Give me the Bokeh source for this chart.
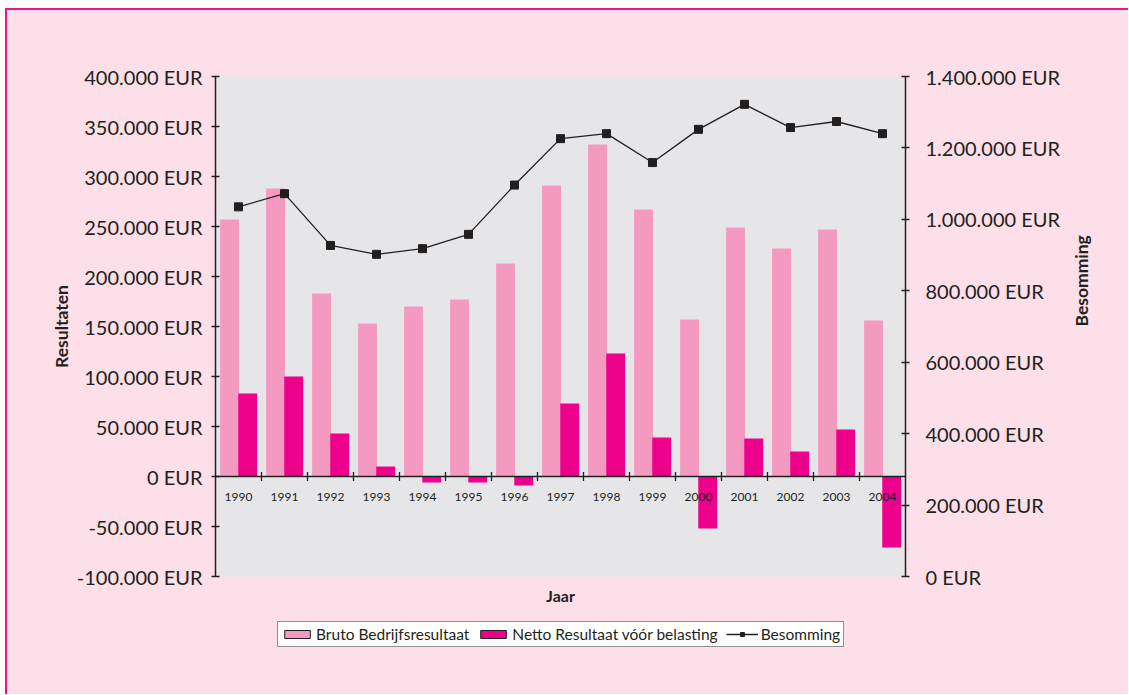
from bokeh.plotting import figure
from bokeh.layouts import column
from bokeh.models import (Range1d, LinearAxis, FixedTicker, Title, Legend,
                          LegendItem, ColumnDataSource, Span)
from bokeh.transform import dodge
from bokeh.core.properties import value
from bokeh.embed import file_html
from bokeh.resources import INLINE
import math

# ---------------- data ----------------
years = ["1990", "1991", "1992", "1993", "1994", "1995", "1996", "1997",
         "1998", "1999", "2000", "2001", "2002", "2003", "2004"]
bruto = [257000, 288000, 183000, 153000, 170000, 177000, 213000, 291000,
         332000, 267000, 157000, 249000, 228000, 247000, 156000]
netto = [83000, 100000, 43000, 10000, -6000, -6000, -9000, 73000,
         123000, 39000, -52000, 38000, 25000, 47000, -71000]
besomming = [1035000, 1072000, 927000, 902000, 918000, 958000, 1096000, 1226000,
             1240000, 1159000, 1252000, 1322000, 1257000, 1274000, 1240000]

left_ticks = [-100000, -50000, 0, 50000, 100000, 150000, 200000, 250000,
              300000, 350000, 400000]
left_tick_labels = ["-100.000 EUR", "-50.000 EUR", "0 EUR", "50.000 EUR",
                    "100.000 EUR", "150.000 EUR", "200.000 EUR", "250.000 EUR",
                    "300.000 EUR", "350.000 EUR", "400.000 EUR"]
right_ticks = [0, 200000, 400000, 600000, 800000, 1000000, 1200000, 1400000]
right_tick_labels = ["0 EUR", "200.000 EUR", "400.000 EUR", "600.000 EUR",
                     "800.000 EUR", "1.000.000 EUR", "1.200.000 EUR",
                     "1.400.000 EUR"]

# ---------------- style ----------------
BG = "#fcdfe9"
PLOT_BG = "#e6e6e8"
BRUTO_C = "#f49ac1"
NETTO_C = "#ec008c"
INK = "#231f20"
FONT = "Lato"

idx = list(range(len(years)))
src = ColumnDataSource(dict(x=idx, year=years, bruto=bruto, netto=netto,
                            bes=besomming))
sep_src = ColumnDataSource(dict(x=[i + 0.5 for i in idx[:-1]],
                                y=[0] * (len(idx) - 1)))

p = figure(frame_width=690, frame_height=500, output_backend="svg",
           toolbar_location=None,
           x_range=Range1d(-0.5, len(years) - 0.5),
           y_range=Range1d(left_ticks[0], left_ticks[-1]),
           x_axis_location=None,
           min_border_left=208, min_border_right=223,
           min_border_top=66, min_border_bottom=40)
p.extra_y_ranges = {"bes": Range1d(right_ticks[0], right_ticks[-1])}

p.background_fill_color = PLOT_BG
p.border_fill_color = BG
p.outline_line_color = None
p.grid.visible = False

# bars
p.vbar(x=dodge("x", -0.195, range=p.x_range), top="bruto", width=0.41,
       source=src, fill_color=BRUTO_C, line_color=None)
p.vbar(x=dodge("x", 0.2, range=p.x_range), top="netto", width=0.41,
       source=src, fill_color=NETTO_C, line_color=None)

# zero line (category axis)
p.add_layout(Span(location=0, dimension="width", line_color=INK, line_width=1.5))
p.scatter(x="x", y="y", source=sep_src, marker="dash", angle=math.pi / 2,
          size=9, line_color=INK, line_width=1.3)
p.text(x="x", y=0, text="year", source=src, y_offset=20,
       text_font=value(FONT), text_font_size="12px", text_color=INK,
       text_align="center", text_baseline="middle")

# line
p.line(x="x", y="bes", source=src, y_range_name="bes",
       line_color=INK, line_width=1.3)
p.scatter(x="x", y="bes", source=src, y_range_name="bes",
          marker="square", size=8, fill_color=INK, line_color=INK)

# axes
def style_axis(ax, ticks, labels, standoff, label_standoff):
    ax.ticker = FixedTicker(ticks=ticks)
    ax.major_label_overrides = {t: l for t, l in zip(ticks, labels)}
    ax.minor_tick_line_color = None
    ax.major_tick_in = 4
    ax.major_tick_out = 4
    ax.major_tick_line_color = INK
    ax.major_tick_line_width = 1.3
    ax.axis_line_color = INK
    ax.axis_line_width = 1.5
    ax.major_label_text_font = FONT
    ax.major_label_text_font_size = "20px"
    ax.major_label_text_color = INK
    ax.major_label_standoff = standoff
    ax.axis_label_text_font = FONT
    ax.axis_label_text_font_size = "17.5px"
    ax.axis_label_text_font_style = "bold"
    ax.axis_label_text_color = INK
    ax.axis_label_standoff = label_standoff

left = p.yaxis[0]
left.axis_label = "Resultaten"
style_axis(left, left_ticks, left_tick_labels, 9, 2)

right = LinearAxis(y_range_name="bes", axis_label="Besomming")
style_axis(right, right_ticks, right_tick_labels, 16, 18)
if "axis_label_orientation" in right.properties():
    right.axis_label_orientation = math.pi / 2
p.add_layout(right, "right")

# x-axis title
p.add_layout(Title(text="Jaar", align="center", text_font=FONT,
                   text_font_size="16px", text_font_style="bold",
                   text_color=INK, standoff=14), "below")

# ---------------- legend strip ----------------
q = figure(width=1121, height=78, output_backend="svg", toolbar_location=None,
           x_axis_location=None, y_axis_location=None, min_border=0)
q.background_fill_color = None
q.border_fill_color = BG
q.outline_line_color = None
q.grid.visible = False
lb = q.vbar(x="x", top="bruto", width=0.4, source=src, fill_color=BRUTO_C,
            line_color=INK, visible=False)
ln = q.vbar(x="x", top="netto", width=0.4, source=src, fill_color=NETTO_C,
            line_color=INK, visible=False)
ll = q.line(x="x", y="bes", source=src, line_color=INK, line_width=1.3,
            visible=False)
ls = q.scatter(x="x", y="bes", source=src, marker="square", size=8,
               fill_color=INK, line_color=INK, visible=False)
legend = Legend(items=[LegendItem(label="Bruto Bedrijfsresultaat", renderers=[lb]),
                       LegendItem(label="Netto Resultaat vóór belasting", renderers=[ln]),
                       LegendItem(label="Besomming", renderers=[ll, ls])],
                orientation="horizontal", location=(62, 47),
                label_text_font=FONT, label_text_font_size="15.5px",
                label_text_color=INK, glyph_width=32, glyph_height=10,
                label_standoff=3, spacing=8, padding=3, margin=0,
                border_line_color=INK, border_line_width=1.5,
                background_fill_color="white", background_fill_alpha=1.0,
                label_height=16)
q.add_layout(legend, "center")

layout = column(p, q, spacing=0)
layout.styles = {"margin-top": "8px", "margin-left": "5px",
                 "background-color": BG,
                 "border-top": "2px solid #ee1190",
                 "border-left": "2px solid #ee1190"}

open("out.html", "w").write(file_html(layout, INLINE))
